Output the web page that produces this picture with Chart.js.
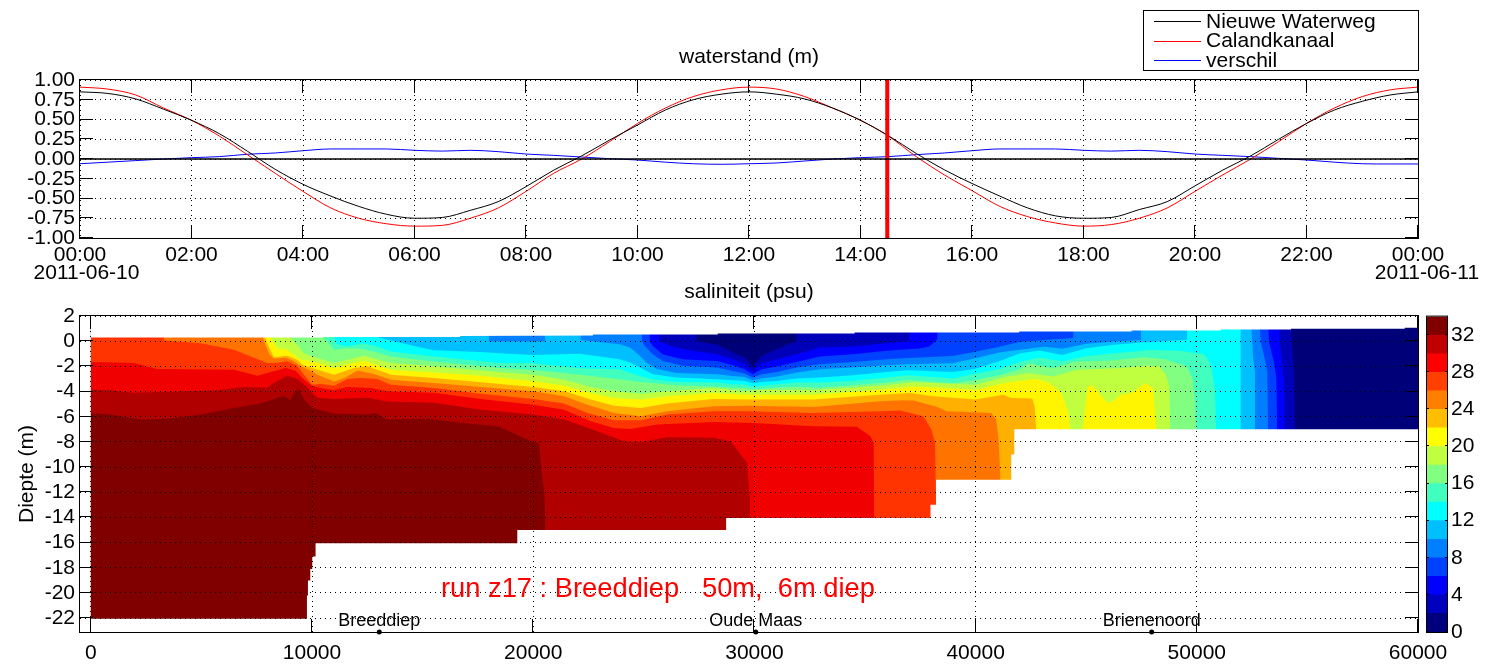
<!DOCTYPE html>
<html>
<head>
<meta charset="utf-8">
<title>waterstand en saliniteit</title>
<script src="https://cdn.jsdelivr.net/npm/chart.js@4/dist/chart.umd.min.js"></script>
<style>
  html, body { margin: 0; padding: 0; background: #fff; overflow: hidden; }
  canvas { position: absolute; }
</style>
</head>
<body>
<canvas id="levelChart" width="1498" height="290" style="left:0px;top:0px"></canvas>
<canvas id="salinityChart" width="1498" height="401" style="left:0px;top:270px"></canvas>
<canvas id="colorbar" width="78" height="360" style="left:1420px;top:300px"></canvas>
<script>
// waterstand, half-hourly from 00:00 to 24:00
const hours = [0,.5,1,1.5,2,2.5,3,3.5,4,4.5,5,5.5,6,6.5,7,7.5,8,8.5,9,9.5,10,10.5,11,11.5,12,
  12.5,13,13.5,14,14.5,15,15.5,16,16.5,17,17.5,18,18.5,19,19.5,20,20.5,21,21.5,22,22.5,23,23.5,24];
const nieuweWaterweg = [.85,.83,.76,.63,.49,.32,.10,-.13,-.32,-.47,-.60,-.70,-.75,-.74,-.65,-.54,-.35,-.14,.04,.24,.43,.62,.75,.82,.85,
  .82,.76,.645,.49,.295,.07,-.135,-.31,-.47,-.62,-.72,-.75,-.74,-.64,-.54,-.34,-.14,.04,.25,.45,.62,.73,.81,.85];
const calandkanaal = [.91,.885,.81,.645,.49,.29,.055,-.18,-.41,-.62,-.75,-.82,-.85,-.84,-.75,-.62,-.41,-.18,0,.22,.45,.645,.79,.875,.91,
  .885,.79,.645,.49,.29,.03,-.20,-.40,-.60,-.73,-.81,-.85,-.83,-.75,-.62,-.41,-.20,0,.22,.45,.645,.79,.875,.91];
const verschil = [-.06,-.04,-.02,0,.017,.03,.06,.076,.105,.127,.127,.127,.11,.10,.11,.093,.063,.046,.025,.004,-.013,-.04,-.06,-.067,-.06,
  -.05,-.025,0,.017,.03,.055,.076,.105,.127,.127,.127,.11,.10,.11,.093,.063,.046,.03,.008,-.013,-.04,-.06,-.063,-.063];
const currentHour = 14.48;
const hourTicks = [0,2,4,6,8,10,12,14,16,18,20,22,24];
const hourLabels = ["00:00","02:00","04:00","06:00","08:00","10:00","12:00","14:00","16:00","18:00","20:00","22:00","00:00"];
const levelTicks = [1,.75,.5,.25,0,-.25,-.5,-.75,-1];

// saliniteit: [afstand, diepte] of the top of each band, 2 = at the water surface
const sal0 = [[0,2],[60000,2]];
const sal2 = [[0,2],[27390,2],[27390,0],[28290,-.29],[29020,-.90],[29560,-1.30],[29920,-2.02],[30330,-1.17],[31010,-.64],[31910,.02],[31910,2],[54210,2],[54290,-.06],[54390,-2.44],[54440,-7.1]];
const sal4 = [[0,2],[25680,2],[25680,.02],[26170,-.37],[26940,-.69],[28290,-1.04],[29020,-1.43],[29560,-1.83],[29920,-2.36],[30330,-1.75],[31010,-1.43],[31910,-1.04],[32950,-.51],[34440,-.43],[35980,-.16],[37010,.02],[37010,2],[53720,2],[53750,-.06],[53870,-1.78],[53960,-3.77],[53980,-7.1]];
const sal6 = [[0,2],[25270,2],[25270,.02],[25400,-.37],[25850,-1.04],[26760,-1.43],[28290,-1.57],[29020,-1.91],[29560,-2.23],[29920,-2.63],[30330,-2.23],[31010,-2.02],[31910,-1.65],[32950,-1.22],[34440,-1.04],[35980,-.77],[36920,-.64],[37460,-.59],[37910,-.43],[38270,.15],[38270,2],[53218,2],[53263,-.06],[53489,-1.65],[53593,-2.97],[53638,-7.1]];
const sal8 = [[0,2],[24910,2],[24910,.02],[25040,-.37],[25400,-1.04],[25850,-1.57],[26760,-1.96],[28290,-2.10],[29020,-2.36],[29560,-2.57],[29920,-2.89],[30330,-2.63],[31010,-2.44],[31910,-2.10],[32950,-1.83],[34440,-1.65],[35980,-1.43],[36920,-1.33],[37460,-1.30],[38950,-1.17],[39940,-.85],[41070,-.45],[41980,-.06],[43110,.1],[44420,.26],[44420,2],[52812,2],[52890,-.06],[53110,-1.65],[53190,-2.44],[53220,-7.1]];
const sal10 = [[0,2],[18000,2],[18000,-.02],[20530,-.02],[20530,2],[22150,2],[22150,.1],[23900,-.24],[24370,-.51],[24730,-1.01],[25130,-1.72],[25590,-2.2],[26490,-2.52],[28290,-2.63],[29020,-2.76],[29560,-2.84],[29920,-3.10],[30330,-2.97],[31010,-2.81],[31910,-2.49],[32950,-2.23],[34440,-2.10],[35980,-1.91],[36920,-1.83],[38950,-1.75],[39940,-1.38],[41070,-.90],[41980,-.69],[43110,-.45],[43920,-.61],[45000,-.21],[46270,-.03],[47480,.10],[47480,2],[52437,2],[52540,-1.12],[52630,-2.44],[52640,-7.1]];
const sal12 = [[0,2],[13000,2],[13000,.29],[13980,-.13],[15470,-.73],[17600,-.85],[18500,-.95],[19940,-1.1],[22110,-1.0],[23900,-1.43],[24370,-1.70],[24820,-2.10],[25400,-2.63],[26490,-2.89],[28290,-3.02],[29020,-3.10],[29560,-3.16],[29920,-3.34],[30330,-3.24],[31010,-3.16],[31910,-2.97],[32950,-2.89],[34440,-2.71],[35980,-2.44],[36920,-2.31],[38950,-2.44],[39940,-2.2],[41070,-1.6],[41980,-.98],[42880,-.75],[43920,-1.09],[45000,-.56],[46270,-.29],[47480,-.1],[48520,0],[49200,.08],[49560,.12],[49560,2],[51990,2],[51990,-7.1]];
const sal14 = [[0,2],[10990,2],[10990,.29],[11140,-.24],[11600,-.42],[12270,-.16],[12950,-.42],[13560,-.82],[15520,-1.21],[18500,-1.74],[19940,-1.74],[22110,-2.15],[23900,-2.23],[24820,-2.76],[25400,-3.05],[26490,-3.24],[28290,-3.29],[29020,-3.42],[29560,-3.45],[29920,-3.61],[30330,-3.55],[31010,-3.42],[31910,-3.29],[32950,-3.29],[34440,-3.16],[35980,-2.89],[36920,-2.71],[38950,-2.97],[39940,-2.6],[41070,-2.2],[41980,-1.65],[42880,-1.3],[43920,-1.6],[45000,-1.2],[46270,-.95],[47840,-.7],[49200,-.77],[50330,-1.01],[50640,-1.88],[50820,-3.79],[50870,-7.1]];
const sal16 = [[0,2],[10540,2],[10540,.29],[11000,-.69],[11600,-.55],[12270,-.63],[12950,-.9],[13560,-1.21],[15520,-1.61],[18500,-2.14],[19940,-2.27],[22110,-2.66],[23900,-3.02],[24820,-3.25],[26490,-3.5],[28290,-3.61],[29020,-3.69],[29560,-3.71],[29920,-3.82],[30330,-3.77],[31010,-3.69],[31910,-3.61],[32950,-3.69],[34440,-3.5],[35980,-3.29],[36920,-3.08],[38950,-3.34],[39940,-3.1],[41070,-2.7],[41980,-2.25],[42380,-1.75],[43460,-2.15],[44540,-1.62],[45940,-1.55],[47630,-1.27],[48570,-1.43],[49200,-1.80],[49560,-2.04],[49830,-3.08],[49920,-5.06],[49970,-7.1]];
const sal18 = [[0,2],[9030,2],[9030,.29],[9260,-.16],[9640,-.95],[10000,-1.21],[11000,-1.74],[11600,-1.48],[12350,-1.16],[13560,-1.74],[15500,-2.0],[17640,-2.32],[20000,-2.66],[21400,-3.06],[22600,-3.64],[23650,-3.98],[24860,-4.17],[26060,-3.98],[28170,-3.72],[29520,-3.98],[30420,-3.85],[32680,-3.9],[35690,-3.54],[37190,-3.27],[40000,-3.46],[41320,-2.85],[42400,-2.53],[43490,-2.8],[44570,-2.27],[45500,-2.2],[46590,-2.14],[47750,-1.93],[48290,-2.0],[48600,-2.66],[48760,-3.59],[48800,-7.1]];
const sal20 = [[0,2],[8100,2],[8100,.29],[8430,-.55],[8880,-.69],[9180,-1.08],[9490,-1.48],[10000,-1.6],[11000,-2.14],[11750,-1.8],[12350,-1.56],[13560,-2.27],[15500,-2.48],[17640,-2.74],[20000,-3.19],[21400,-3.54],[22600,-4.12],[23650,-4.51],[24860,-4.64],[26060,-4.38],[28170,-4.12],[29670,-4.25],[32680,-4.25],[35690,-3.85],[37190,-3.6],[40000,-3.85],[41320,-3.32],[42710,-2.98],[43330,-3.32],[43880,-4.12],[44190,-5.7],[44290,-7.1],[44850,-7.1],[44960,-5.17],[45070,-3.64],[45270,-3.51],[45500,-3.98],[45970,-4.91],[46200,-4.78],[46590,-4.25],[47050,-4.12],[47670,-3.32],[48010,-3.72],[48090,-5.17],[48170,-7.1]];
const sal22 = [[0,2],[7880,2],[7880,.29],[8030,-.4],[8280,-1.27],[8880,-1.16],[9330,-1.48],[9560,-1.87],[10000,-2.14],[11000,-2.66],[11900,-2.14],[12500,-2.0],[13560,-2.66],[15500,-2.93],[17640,-3.27],[20000,-3.64],[21400,-3.98],[22600,-4.64],[23650,-5.12],[24860,-5.3],[26060,-4.96],[28170,-4.6],[29670,-4.64],[32680,-4.64],[35690,-4.25],[37040,-4.12],[38090,-4.38],[40000,-4.64],[41240,-4.25],[41630,-4.51],[42560,-4.56],[42670,-5.17],[42740,-7.1]];
const sal24 = [[0,2],[7780,2],[7780,.29],[7900,-.3],[8080,-1.05],[8280,-1.4],[8800,-1.3],[9150,-1.55],[9500,-2.0],[10000,-2.4],[10240,-2.66],[11000,-3.2],[11500,-2.9],[12050,-2.32],[12800,-2.6],[13560,-3.06],[15500,-3.32],[17640,-3.64],[20000,-3.98],[21400,-4.38],[22450,-5.04],[23650,-5.7],[24860,-5.96],[26060,-5.57],[28170,-5.17],[29670,-5.12],[32680,-5.22],[35690,-4.78],[36740,-4.7],[37200,-4.72],[38240,-5.2],[38700,-5.57],[40700,-5.7],[40930,-6.23],[41040,-7.8],[41130,-11.1]];
const sal26 = [[0,2],[3300,2],[3300,.05],[4960,-.16],[6470,-.69],[7600,-1.48],[7980,-1.74],[8350,-1.74],[8880,-1.6],[9330,-1.95],[9640,-2.66],[10000,-3.46],[10390,-3.4],[11000,-3.54],[11600,-3.0],[12200,-2.93],[12950,-3.0],[13560,-3.46],[15500,-3.72],[17640,-4.17],[20000,-4.6],[21400,-4.96],[22450,-5.7],[23650,-6.28],[24860,-6.28],[26060,-5.83],[28170,-5.57],[29670,-5.57],[32680,-5.7],[35690,-5.57],[36590,-5.51],[37640,-5.96],[38000,-7.02],[38170,-8.07],[38210,-13.1]];
const sal28 = [[0,-1.66],[1950,-1.74],[3000,-2.2],[6470,-2.27],[7520,-2.74],[8810,-2.14],[9260,-2.35],[9560,-2.93],[10000,-3.54],[10390,-3.72],[11000,-3.9],[11600,-3.64],[12650,-3.72],[13400,-3.98],[15500,-4.1],[17640,-4.6],[20000,-5.04],[21400,-5.44],[22600,-6.36],[23650,-6.89],[24400,-6.97],[25600,-6.62],[28170,-6.41],[29970,-6.5],[32680,-6.75],[34630,-6.8],[35240,-7.55],[35390,-8.07],[35420,-14.1]];
const sal30 = [[0,-3.85],[890,-3.9],[1950,-4.1],[5700,-3.9],[6920,-3.64],[7980,-3.7],[8280,-3.3],[8880,-2.74],[9330,-3.0],[9710,-3.54],[10240,-4.5],[11000,-4.6],[12500,-4.5],[13400,-4.8],[15500,-4.9],[17640,-5.44],[20000,-5.83],[21400,-6.23],[22900,-7.15],[24100,-7.94],[24860,-8.0],[26060,-7.63],[28170,-7.68],[28920,-7.94],[29670,-9.66],[29800,-12.56],[29800,-15.1]];
const sal32 = [[0,-5.7],[890,-5.83],[2250,-6.23],[3450,-6.17],[4960,-5.83],[6470,-5.3],[7680,-4.96],[8730,-4.33],[9030,-4.7],[9180,-4.12],[9410,-3.8],[9640,-4.64],[10000,-5.3],[11000,-5.75],[12500,-5.83],[12880,-5.7],[13400,-6.23],[15220,-6.17],[17030,-6.54],[18390,-6.75],[19140,-7.33],[19900,-7.94],[20270,-8.1],[20350,-10],[20490,-12],[20550,-14.2],[20550,-15.1]];
const salBands = [sal0,sal2,sal4,sal6,sal8,sal10,sal12,sal14,sal16,sal18,sal20,sal22,sal24,sal26,sal28,sal30,sal32];
const bandColors = ["#000078","#0000b8","#0000ff","#0040ff","#0080ff","#00bfff","#00ffff","#40ffbf","#80ff80","#c0ff40","#fff500","#ffb000","#ff7400","#ff3400","#f00000","#b00000","#800000"];
const barColors = ["#00007f","#0000bf","#0000ff","#0040ff","#0080ff","#00bfff","#00ffff","#40ffbf","#80ff80","#bfff40","#ffff00","#ffbf00","#ff8000","#ff4000","#ff0000","#c00000","#800000"];

const surface = [[0,.29],[10500,.29],[10500,.34],[16700,.34],[16700,.42],[22700,.45],[22700,.53],[28340,.53],[28340,.61],[34530,.61],[34530,.69],[41970,.69],[41970,.76],[47050,.76],[47050,.84],[51080,.84],[51080,.92],[54260,.92],[54260,.98],[59400,.98],[59400,1.06],[60000,1.06]];
const bed = [[0,-22.05],[9770,-22.05],[9770,-20.2],[9815,-20.2],[9815,-19],[9920,-19],[9920,-18.1],[10010,-18.1],[10010,-17.1],[10160,-17.1],[10160,-16.05],[19280,-16.05],[19280,-15],[28720,-15],[28720,-14.05],[37960,-14.05],[37960,-13],[38210,-13],[38210,-11],[41610,-11],[41610,-9],[41750,-9],[41750,-7],[60000,-7]];

const placeNames = ["Breeddiep","Oude Maas","Brienenoord"];
const placeX = [13040,30060,47960];
const distanceTicks = [0,10000,20000,30000,40000,50000,60000];
const depthTicks = [2,0,-2,-4,-6,-8,-10,-12,-14,-16,-18,-20,-22];
const salinityTicks = [0,4,8,12,16,20,24,28,32];

const FONT = "'Liberation Sans', Arial, sans-serif";
const tickFont = { family: FONT, size: 21 };

Chart.defaults.animation = false;
Chart.defaults.color = "#000";

function xy(pairs) {
  return pairs.map(p => ({ x: p[0], y: p[1] }));
}

function series(label, values, color) {
  return {
    label: label,
    data: hours.map((h, i) => ({ x: h, y: values[i] })),
    borderColor: color,
    borderWidth: 1,
    pointRadius: 0,
    cubicInterpolationMode: "monotone",
    fill: false
  };
}

function fillBand(pairs, color, where) {
  return {
    data: xy(pairs),
    borderWidth: 0,
    pointRadius: 0,
    backgroundColor: color,
    fill: where
  };
}

// matlab style frame with inward ticks on all four sides
const axesBox = {
  id: "axesBox",
  afterDraw(chart, args, opts) {
    const ctx = chart.ctx;
    const a = chart.chartArea;
    const len = opts.tickLength;
    ctx.save();
    ctx.strokeStyle = "#000";
    ctx.lineWidth = 1;
    ctx.beginPath();
    const xs = chart.scales.x;
    if (xs.options.display) {
      xs.ticks.forEach(t => {
        const px = Math.round(xs.getPixelForValue(t.value)) - 0.5;
        ctx.moveTo(px, a.top); ctx.lineTo(px, a.top + len);
        ctx.moveTo(px, a.bottom); ctx.lineTo(px, a.bottom - len);
      });
    }
    const ys = chart.scales.y;
    ys.ticks.forEach(t => {
      const py = Math.round(ys.getPixelForValue(t.value)) - 0.5;
      ctx.moveTo(a.left, py); ctx.lineTo(a.left + len, py);
      ctx.moveTo(a.right, py); ctx.lineTo(a.right - len, py);
    });
    ctx.stroke();
    ctx.strokeRect(a.left - 0.5, a.top - 0.5, a.right - a.left + 1, a.bottom - a.top + 1);
    ctx.restore();
  }
};

// free text, placed in data coordinates
const notes = {
  id: "notes",
  afterDraw(chart, args, opts) {
    const ctx = chart.ctx;
    ctx.save();
    ctx.textBaseline = "middle";
    (opts.items || []).forEach(n => {
      ctx.font = n.size + "px " + FONT;
      ctx.fillStyle = n.color || "#000";
      ctx.textAlign = n.align || "center";
      ctx.fillText(n.text, chart.scales.x.getPixelForValue(n.x), chart.scales.y.getPixelForValue(n.y));
    });
    ctx.restore();
  }
};

// legend box top right of the water level plot
const legendBox = {
  id: "legendBox",
  afterDraw(chart) {
    const ctx = chart.ctx;
    ctx.save();
    ctx.fillStyle = "#fff";
    ctx.fillRect(1143.5, 10.5, 275, 60);
    ctx.strokeStyle = "#000";
    ctx.lineWidth = 1;
    ctx.strokeRect(1143.5, 10.5, 275, 60);
    ctx.font = "21px " + FONT;
    ctx.textBaseline = "middle";
    ctx.textAlign = "left";
    chart.data.datasets.filter(d => d.label && d.inLegend !== false).forEach((d, i) => {
      const y = 21 + i * 19.7;
      ctx.strokeStyle = d.borderColor;
      ctx.beginPath();
      ctx.moveTo(1154, Math.round(y) + 0.5);
      ctx.lineTo(1201, Math.round(y) + 0.5);
      ctx.stroke();
      ctx.fillStyle = "#000";
      ctx.fillText(d.label, 1206, y + 1);
    });
    ctx.restore();
  }
};

const dotted = { display: false, dash: [1, 4] };
const dottedGrid = { z: 1, color: "#000", lineWidth: 1, drawTicks: false };

new Chart(document.getElementById("levelChart"), {
  type: "line",
  data: {
    datasets: [
      { label: "nul", inLegend: false, data: [{ x: 0, y: 0 }, { x: 24, y: 0 }], borderColor: "#000", borderWidth: 1.5, pointRadius: 0 },
      { label: "nu", inLegend: false, data: [{ x: currentHour, y: -1 }, { x: currentHour, y: 1 }], borderColor: "#ff0000", borderWidth: 4, pointRadius: 0 },
      series("Nieuwe Waterweg", nieuweWaterweg, "#000"),
      series("Calandkanaal", calandkanaal, "#ff0000"),
      series("verschil", verschil, "#0000ff")
    ]
  },
  plugins: [axesBox, notes, legendBox],
  options: {
    responsive: false,
    layout: { padding: { top: 45, right: 80, left: 0, bottom: 0 } },
    scales: {
      x: {
        type: "linear", min: 0, max: 24,
        grid: dottedGrid, border: dotted,
        afterBuildTicks(axis) { axis.ticks = hourTicks.map(v => ({ value: v })); },
        afterFit(axis) { axis.height = 52; },
        ticks: {
          font: tickFont, padding: 5, maxRotation: 0, autoSkip: false,
          callback(v) { return hourLabels[hourTicks.indexOf(v)]; }
        }
      },
      y: {
        min: -1, max: 1,
        grid: dottedGrid, border: dotted,
        afterBuildTicks(axis) { axis.ticks = levelTicks.map(v => ({ value: v })); },
        afterFit(axis) { axis.width = 80; },
        ticks: {
          font: tickFont, padding: 5, autoSkip: false,
          callback(v) { return v.toFixed(2); }
        }
      }
    },
    plugins: {
      legend: { display: false },
      tooltip: { enabled: false },
      title: {
        display: true, text: "waterstand (m)", fullSize: false, color: "#000",
        font: { family: FONT, size: 21, weight: "normal", lineHeight: "25px" },
        padding: { top: 0, bottom: 10 }
      },
      axesBox: { tickLength: 13 },
      notes: {
        items: [
          { text: "2011-06-10", x: .117, y: -1.45, size: 21 },
          { text: "2011-06-11", x: 24.16, y: -1.45, size: 21 }
        ]
      }
    }
  }
});

const salinityDatasets = [
  { data: placeX.map(x => ({ x: x, y: -23.1 })), borderWidth: 0, pointRadius: 2.5, pointBackgroundColor: "#000", pointBorderWidth: 0, clip: false, showLine: false },
  fillBand(surface, "#fff", "end"),
  fillBand(bed, "#fff", "start")
];
for (let i = salBands.length - 1; i >= 0; i--) {
  salinityDatasets.push(fillBand(salBands[i], bandColors[i], "start"));
}

new Chart(document.getElementById("salinityChart"), {
  type: "line",
  data: { datasets: salinityDatasets },
  plugins: [axesBox, notes],
  options: {
    responsive: false,
    layout: { padding: { top: 10, right: 80, left: 0, bottom: 0 } },
    scales: {
      x: {
        type: "linear", min: -490, max: 60000,
        grid: dottedGrid, border: dotted,
        afterBuildTicks(axis) { axis.ticks = distanceTicks.map(v => ({ value: v })); },
        afterFit(axis) { axis.height = 39; },
        ticks: { font: tickFont, padding: 9, maxRotation: 0, autoSkip: false, callback(v) { return String(v); } }
      },
      y: {
        min: -23.1, max: 2,
        grid: dottedGrid, border: dotted,
        afterBuildTicks(axis) { axis.ticks = depthTicks.map(v => ({ value: v })); },
        afterFit(axis) { axis.width = 80; },
        title: { display: true, text: "Diepte (m)", color: "#000", font: { family: FONT, size: 21 }, padding: { top: 15, bottom: 0 } },
        ticks: { font: tickFont, padding: 5, autoSkip: false, callback(v) { return String(v); } }
      }
    },
    plugins: {
      legend: { display: false },
      tooltip: { enabled: false },
      title: {
        display: true, text: "saliniteit (psu)", fullSize: false, color: "#000",
        font: { family: FONT, size: 21, weight: "normal", lineHeight: "25px" },
        padding: { top: 0, bottom: 11 }
      },
      axesBox: { tickLength: 13 },
      notes: {
        items: placeNames.map((name, i) => ({ text: name, x: placeX[i], y: -22.25, size: 18 })).concat([
          { text: "run z17 : Breeddiep   50m,  6m diep", x: 15830, y: -19.75, size: 27.3, color: "#ff0000", align: "left" }
        ])
      }
    }
  }
});

new Chart(document.getElementById("colorbar"), {
  type: "bar",
  data: {
    labels: ["psu"],
    datasets: barColors.map(c => ({ data: [2], backgroundColor: c, barPercentage: 1, categoryPercentage: 1 }))
  },
  plugins: [axesBox],
  options: {
    responsive: false,
    layout: { padding: { top: 16, right: 0, left: 7, bottom: 28 } },
    scales: {
      x: { display: false, stacked: true },
      y: {
        position: "right", stacked: true, min: 0, max: 34,
        grid: { display: false, drawTicks: false }, border: { display: false },
        afterBuildTicks(axis) { axis.ticks = salinityTicks.map(v => ({ value: v })); },
        afterFit(axis) { axis.width = 51; },
        ticks: { font: tickFont, padding: 4, autoSkip: false, callback(v) { return String(v); } }
      }
    },
    plugins: {
      legend: { display: false },
      tooltip: { enabled: false },
      axesBox: { tickLength: 2 }
    }
  }
});
</script>
</body>
</html>
